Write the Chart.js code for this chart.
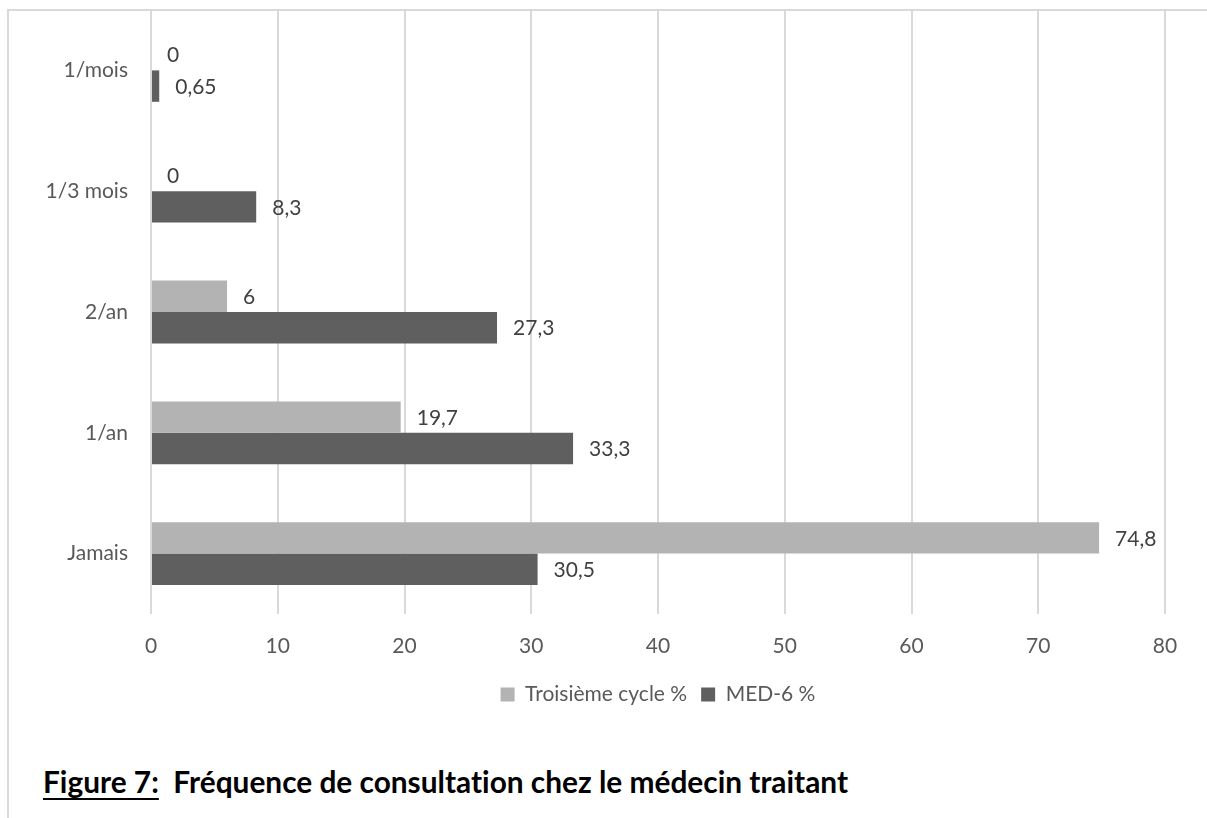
<!DOCTYPE html>
<html lang="fr">
<head>
<meta charset="utf-8">
<title>Fréquence de consultation chez le médecin traitant</title>
<script src="https://cdn.jsdelivr.net/npm/chart.js@4/dist/chart.umd.min.js"></script>
<style>
  html, body { margin: 0; padding: 0; background: #ffffff; }
  body { width: 1207px; height: 818px; overflow: hidden; position: relative; }
  #frame {
    position: absolute; left: 7px; top: 9px; right: -10px; bottom: -10px;
    border-left: 2px solid #d9d9d9; border-top: 2px solid #d9d9d9;
  }
  #chart { position: absolute; left: 0; top: 0; }
  #caption {
    position: absolute; left: 43px; top: 767px;
    font-family: Lato, "Open Sans", sans-serif; font-weight: bold;
    font-size: 22px; line-height: 1; color: #000; white-space: nowrap;
    font-variant-ligatures: none;
  }
  #caption .u { text-decoration: underline; text-decoration-thickness: 2px; text-underline-offset: 5px; }
</style>
</head>
<body>
<div id="frame"></div>
<canvas id="chart" width="1332" height="715"></canvas>
<div id="caption"><span class="u">Figure 7:</span>&nbsp; Fréquence de consultation chez le médecin traitant</div>
<script>
// Fréquence de consultation, en % des répondants
const categories = ['1/mois', '1/3 mois', '2/an', '1/an', 'Jamais'];
const troisiemeCycle = [0, 0, 6, 19.7, 74.8];
const med6 = [0.65, 8.3, 27.3, 33.3, 30.5];
const seriesNames = ['Troisième cycle %', 'MED-6 %'];
const xTicks = [0, 10, 20, 30, 40, 50, 60, 70, 80];

const FONT = 'Lato, "Open Sans", sans-serif';
const SIZE = 21;
const TEXT = '#595959';

// Writes each bar's value just past its end, with a decimal comma
const valueLabels = {
  id: 'valueLabels',
  afterDatasetsDraw(chart) {
    const ctx = chart.ctx;
    ctx.save();
    ctx.font = SIZE + 'px ' + FONT;
    ctx.fillStyle = '#404040';
    ctx.textAlign = 'left';
    ctx.textBaseline = 'middle';
    chart.data.datasets.forEach((ds, di) => {
      const meta = chart.getDatasetMeta(di);
      meta.data.forEach((bar, i) => {
        const txt = String(ds.data[i]).replace('.', ',');
        ctx.fillText(txt, bar.x + 16, bar.y + 1);
      });
    });
    ctx.restore();
  }
};

new Chart(document.getElementById('chart'), {
  type: 'bar',
  data: {
    labels: categories,
    datasets: [
      { label: seriesNames[0], data: troisiemeCycle, backgroundColor: '#b3b3b3' },
      { label: seriesNames[1], data: med6, backgroundColor: '#5f5f5f' }
    ]
  },
  options: {
    indexAxis: 'y',
    responsive: false,
    animation: false,
    devicePixelRatio: 1,
    categoryPercentage: 0.52,
    barPercentage: 1,
    layout: { padding: { left: 0, top: 10, right: 167, bottom: 0 } },
    scales: {
      x: {
        min: 0, max: 80,
        afterBuildTicks(scale) { scale.ticks = xTicks.map(v => ({ value: v })); },
        afterFit(scale) { scale.height = 56; },
        grid: { color: '#d9d9d9', lineWidth: 2, drawTicks: false },
        border: { display: false },
        ticks: { color: TEXT, font: { family: FONT, size: SIZE }, padding: 20 }
      },
      y: {
        afterFit(scale) {
          scale.width = 151;
          scale.paddingTop = 0;
          scale.paddingBottom = 0;
        },
        grid: { display: false, drawTicks: false },
        border: { display: false },
        ticks: { color: TEXT, font: { family: FONT, size: SIZE }, padding: 23 }
      }
    },
    plugins: {
      legend: {
        position: 'bottom',
        fullSize: false,
        labels: {
          color: TEXT, font: { family: FONT, size: SIZE },
          boxWidth: 14, boxHeight: 14, padding: 14
        }
      },
      tooltip: { enabled: false }
    }
  },
  plugins: [valueLabels]
});

// Scale the caption so it spans the full width of the figure text block
(function fitCaption() {
  const cap = document.getElementById('caption');
  const target = 805;
  const w = cap.getBoundingClientRect().width;
  if (w > 0) cap.style.fontSize = (22 * target / w).toFixed(2) + 'px';
})();
</script>
</body>
</html>
